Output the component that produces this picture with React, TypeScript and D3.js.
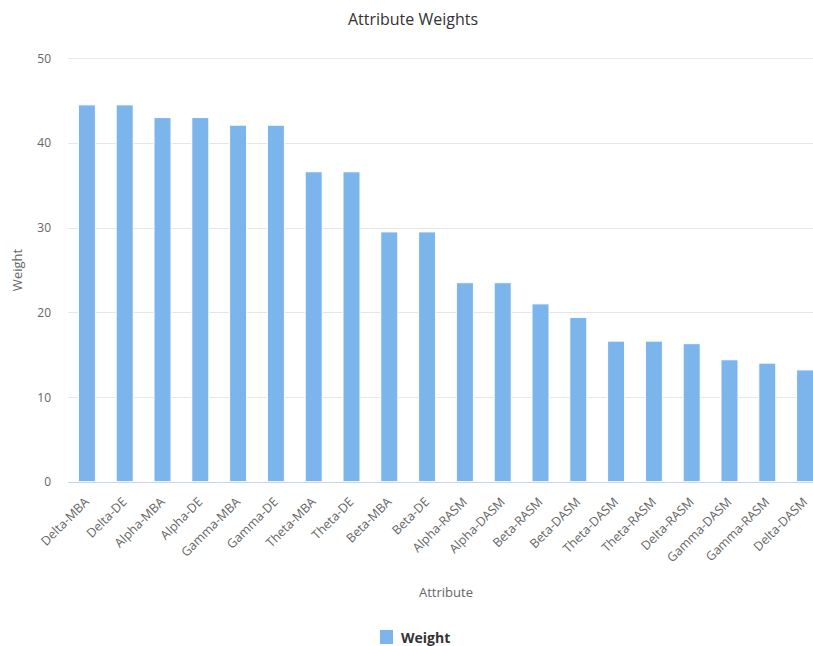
import React, { useEffect, useRef } from "react";
import * as d3 from "d3";

const categories = [
  "Delta-MBA", "Delta-DE", "Alpha-MBA", "Alpha-DE", "Gamma-MBA", "Gamma-DE",
  "Theta-MBA", "Theta-DE", "Beta-MBA", "Beta-DE", "Alpha-RASM", "Alpha-DASM",
  "Beta-RASM", "Beta-DASM", "Theta-DASM", "Theta-RASM", "Delta-RASM",
  "Gamma-DASM", "Gamma-RASM", "Delta-DASM",
];
const weights = [
  44.5, 44.5, 43.0, 43.0, 42.1, 42.1, 36.6, 36.6, 29.5, 29.5, 23.5, 23.5,
  21.0, 19.4, 16.6, 16.6, 16.3, 14.4, 14.0, 13.2,
];
const yTicks = [0, 10, 20, 30, 40, 50];

const FONT = "'Open Sans', 'DejaVu Sans', sans-serif";

const App: React.FC = () => {
  const svgRef = useRef<SVGSVGElement | null>(null);

  useEffect(() => {
    const width = 813;
    const height = 646;
    const left = 68, right = 824, top = 58.3, bottom = 481.7;

    const svg = d3.select(svgRef.current);
    svg.selectAll("*").remove();
    svg.attr("width", width).attr("height", height);

    const x = d3
      .scaleBand<string>()
      .domain(categories)
      .range([left, right])
      .paddingInner(0.55)
      .paddingOuter(0.275);
    const y = d3.scaleLinear().domain([0, 50]).range([bottom, top]);

    // gridlines
    svg.append("g")
      .selectAll("line")
      .data(yTicks.filter((t) => t > 0))
      .join("line")
      .attr("x1", left)
      .attr("x2", width)
      .attr("y1", (d) => Math.round(y(d)) + 0.5)
      .attr("y2", (d) => Math.round(y(d)) + 0.5)
      .attr("stroke", "#e6e6e6");

    // y tick labels
    svg.append("g")
      .selectAll("text")
      .data(yTicks)
      .join("text")
      .attr("x", 51)
      .attr("y", (d) => y(d) + 4.5)
      .attr("text-anchor", "end")
      .attr("font-family", FONT)
      .attr("font-size", 12)
      .attr("fill", "#666666")
      .text((d) => d);

    // bars
    svg.append("g")
      .selectAll("rect")
      .data(weights)
      .join("rect")
      .attr("x", (_, i) => x(categories[i])!)
      .attr("width", x.bandwidth())
      .attr("y", (d) => y(d))
      .attr("height", (d) => y(0) - y(d))
      .attr("fill", "#7cb5ec")
      .attr("stroke", "#ffffff")
      .attr("stroke-width", 1);

    // x axis line
    svg.append("line")
      .attr("x1", left)
      .attr("x2", width)
      .attr("y1", Math.round(bottom) + 0.5)
      .attr("y2", Math.round(bottom) + 0.5)
      .attr("stroke", "#ccd6eb");

    // x labels, rotated
    svg.append("g")
      .selectAll("text")
      .data(categories)
      .join("text")
      .attr("transform", (d) => {
        const cx = x(d)! + x.bandwidth() / 2 + 3;
        return `translate(${cx},${bottom + 21}) rotate(-45)`;
      })
      .attr("text-anchor", "end")
      .attr("font-family", FONT)
      .attr("font-size", 12.5)
      .attr("fill", "#666666")
      .text((d) => d);

    // title
    svg.append("text")
      .attr("x", 413)
      .attr("y", 25)
      .attr("text-anchor", "middle")
      .attr("font-family", FONT)
      .attr("font-size", 16)
      .attr("fill", "#333333")
      .text("Attribute Weights");

    // axis titles
    svg.append("text")
      .attr("x", (left + right) / 2)
      .attr("y", 597)
      .attr("text-anchor", "middle")
      .attr("font-family", FONT)
      .attr("font-size", 13)
      .attr("fill", "#666666")
      .text("Attribute");

    svg.append("text")
      .attr("transform", `translate(22,${(top + bottom) / 2}) rotate(-90)`)
      .attr("text-anchor", "middle")
      .attr("font-family", FONT)
      .attr("font-size", 13)
      .attr("fill", "#666666")
      .text("Weight");

    // legend
    const lg = svg.append("g").attr("transform", "translate(380,630)");
    lg.append("rect")
      .attr("width", 13)
      .attr("height", 14)
      .attr("fill", "#7cb5ec");
    lg.append("text")
      .attr("x", 21)
      .attr("y", 12.5)
      .attr("font-family", FONT)
      .attr("font-size", 14)
      .attr("font-weight", "bold")
      .attr("fill", "#333333")
      .text("Weight");
  }, []);

  return (
    <svg
      ref={svgRef}
      style={{ position: "absolute", left: 0, top: 0, display: "block" }}
    />
  );
};

export default App;
